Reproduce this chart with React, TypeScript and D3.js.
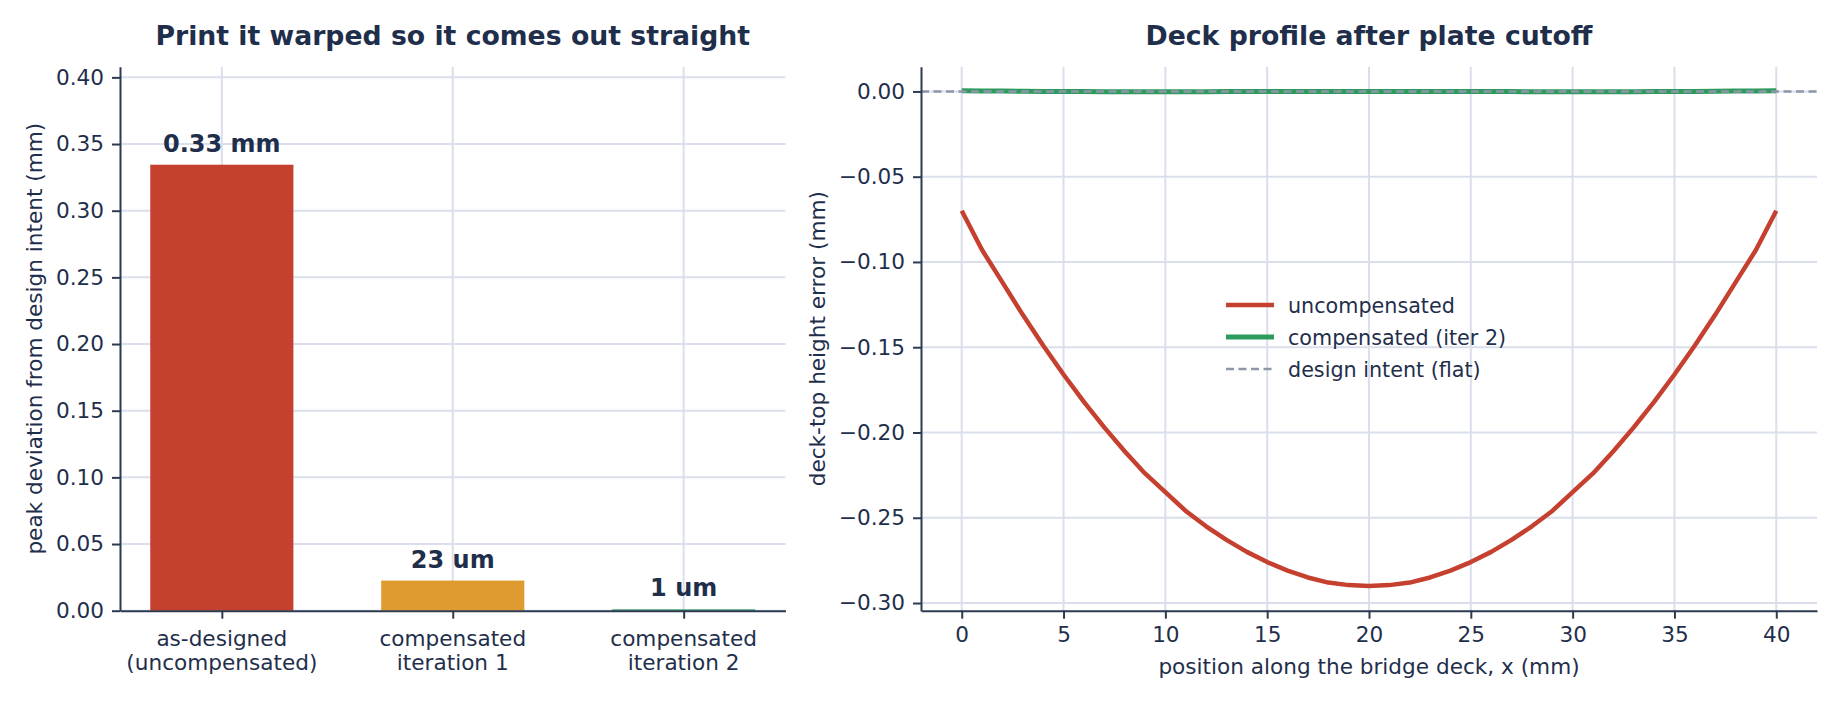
import { useEffect, useRef } from "react";
import * as d3 from "d3";

// ---- data ----
const barCategories = [
  ["as-designed", "(uncompensated)"],
  ["compensated", "iteration 1"],
  ["compensated", "iteration 2"],
];
const barValues = [0.3345, 0.0226, 0.001];
const barLabels = ["0.33 mm", "23 um", "1 um"];
const barColors = ["#c5402f", "#df9b2f", "#2e9b5e"];
const barTicks = [0, 0.05, 0.1, 0.15, 0.2, 0.25, 0.3, 0.35, 0.4];

const deckX = [
  0, 1, 2, 3, 4, 5, 6, 7, 8, 9, 10, 11, 12, 13, 14, 15, 16, 17, 18, 19, 20,
  21, 22, 23, 24, 25, 26, 27, 28, 29, 30, 31, 32, 33, 34, 35, 36, 37, 38, 39, 40,
];
const uncompensated = [
  -0.07, -0.093, -0.112, -0.131, -0.149, -0.166, -0.182, -0.197, -0.211, -0.224,
  -0.235, -0.246, -0.255, -0.263, -0.27, -0.276, -0.281, -0.285, -0.288, -0.2895,
  -0.29,
  -0.2895, -0.288, -0.285, -0.281, -0.276, -0.27, -0.263, -0.255, -0.246, -0.235,
  -0.224, -0.211, -0.197, -0.182, -0.166, -0.149, -0.131, -0.112, -0.093, -0.07,
];
const compensated = [
  0.0004, 0.0003, 0.0002, 0.0001, 0.0, -0.0001, -0.0001, -0.0002, -0.0002, -0.0002,
  -0.0002, -0.0002, -0.0002, -0.0001, -0.0001, 0.0, 0.0, 0.0, 0.0, 0.0,
  0.0,
  0.0, 0.0, 0.0, 0.0, 0.0, -0.0001, -0.0001, -0.0002, -0.0002, -0.0002,
  -0.0002, -0.0002, -0.0002, -0.0001, -0.0001, 0.0, 0.0001, 0.0002, 0.0003, 0.0004,
];
const deckXTicks = [0, 5, 10, 15, 20, 25, 30, 35, 40];
const deckYTicks = [0, -0.05, -0.1, -0.15, -0.2, -0.25, -0.3];
const legendItems = [
  { label: "uncompensated", color: "#c5402f", width: 4.5, dash: "" },
  { label: "compensated (iter 2)", color: "#2e9b5e", width: 5, dash: "" },
  { label: "design intent (flat)", color: "#8e97a8", width: 2.4, dash: "8,4.5" },
];

const W = 1840;
const H = 704;
const TEXT = "#1f2f4b";
const SPINE = "#2d3b50";
const GRID = "#dadfeb";
const FONT = "'DejaVu Sans', sans-serif";
const FS = 21.6; // ticks + axis labels
const FS_LEG = 20.7;

const top = 66.7;
const bottom = 610.7;

function styleAxis(g: d3.Selection<SVGGElement, unknown, null, undefined>) {
  g.select(".domain").attr("stroke", SPINE).attr("stroke-width", 2);
  g.selectAll(".tick line").attr("stroke", SPINE).attr("stroke-width", 2);
  g.selectAll(".tick text")
    .attr("fill", TEXT)
    .attr("font-family", FONT)
    .attr("font-size", FS);
}

export default function App() {
  const ref = useRef<SVGSVGElement | null>(null);

  useEffect(() => {
    if (!ref.current) return;
    const svg = d3.select(ref.current);
    svg.selectAll("*").remove();
    svg.append("rect").attr("width", W).attr("height", H).attr("fill", "#fff");

    const fmt = (v: number) => d3.format(".2f")(v).replace("-", "\u2212");

    // ---------- left: bar chart ----------
    const lx = d3.scaleLinear().domain([-0.441, 2.441]).range([120, 785.5]);
    const ly = d3.scaleLinear().domain([0, 0.408]).range([bottom, top]);
    const left = svg.append("g");

    const lgrid = left.append("g").attr("stroke", GRID).attr("stroke-width", 2);
    lgrid
      .selectAll("line.h")
      .data(barTicks)
      .join("line")
      .attr("x1", lx.range()[0])
      .attr("x2", lx.range()[1])
      .attr("y1", (d) => ly(d))
      .attr("y2", (d) => ly(d));
    lgrid
      .selectAll("line.v")
      .data(barValues.map((_, i) => i))
      .join("line")
      .attr("class", "v")
      .attr("x1", (d) => lx(d))
      .attr("x2", (d) => lx(d))
      .attr("y1", top)
      .attr("y2", bottom);

    left
      .append("g")
      .selectAll("rect")
      .data(barValues)
      .join("rect")
      .attr("x", (_, i) => lx(i - 0.31))
      .attr("width", lx(0.62) - lx(0))
      .attr("y", (d) => ly(d))
      .attr("height", (d) => ly(0) - ly(d))
      .attr("fill", (_, i) => barColors[i]);

    left
      .append("g")
      .selectAll("text")
      .data(barValues)
      .join("text")
      .attr("x", (_, i) => lx(i))
      .attr("y", (d) => ly(d) - 13)
      .attr("text-anchor", "middle")
      .attr("font-family", FONT)
      .attr("font-weight", "bold")
      .attr("font-size", 24)
      .attr("fill", TEXT)
      .text((_, i) => barLabels[i]);

    const lyAxis = left
      .append("g")
      .attr("transform", `translate(120,0)`)
      .call(
        d3.axisLeft(ly).tickValues(barTicks).tickSize(8).tickSizeOuter(0).tickPadding(8).tickFormat((d) => fmt(+d)),
      );
    styleAxis(lyAxis);

    const lxAxis = left
      .append("g")
      .attr("transform", `translate(0,${bottom})`)
      .call(d3.axisBottom(lx).tickValues([0, 1, 2]).tickSize(8).tickSizeOuter(0).tickPadding(8).tickFormat(() => ""));
    styleAxis(lxAxis);
    lxAxis.selectAll(".tick text").remove();
    left
      .append("g")
      .selectAll("text")
      .data(barCategories)
      .join("text")
      .attr("x", (_, i) => lx(i))
      .attr("y", 645.5)
      .attr("text-anchor", "middle")
      .attr("font-family", FONT)
      .attr("font-size", FS)
      .attr("fill", TEXT)
      .each(function (lines) {
        const t = d3.select(this);
        lines.forEach((s, k) => {
          t.append("tspan").attr("x", t.attr("x")).attr("dy", k === 0 ? 0 : 24.8).text(s);
        });
      });

    left
      .append("text")
      .attr("transform", `translate(41.5,${(top + bottom) / 2}) rotate(-90)`)
      .attr("text-anchor", "middle")
      .attr("font-family", FONT)
      .attr("font-size", FS)
      .attr("fill", TEXT)
      .text("peak deviation from design intent (mm)");

    left
      .append("text")
      .attr("x", (lx.range()[0] + lx.range()[1]) / 2)
      .attr("y", 45)
      .attr("text-anchor", "middle")
      .attr("font-family", FONT)
      .attr("font-weight", "bold")
      .attr("font-size", 26.7)
      .attr("fill", TEXT)
      .text("Print it warped so it comes out straight");

    // ---------- right: deck profile ----------
    const rx = d3.scaleLinear().domain([-2, 42]).range([921, 1817]);
    const ry = d3.scaleLinear().domain([-0.3045, 0.0145]).range([bottom, top]);
    const right = svg.append("g");

    const rgrid = right.append("g").attr("stroke", GRID).attr("stroke-width", 2);
    rgrid
      .selectAll("line.h")
      .data(deckYTicks)
      .join("line")
      .attr("class", "h")
      .attr("x1", rx.range()[0])
      .attr("x2", rx.range()[1])
      .attr("y1", (d) => ry(d))
      .attr("y2", (d) => ry(d));
    rgrid
      .selectAll("line.v")
      .data(deckXTicks)
      .join("line")
      .attr("class", "v")
      .attr("x1", (d) => rx(d))
      .attr("x2", (d) => rx(d))
      .attr("y1", top)
      .attr("y2", bottom);

    const line = (vals: number[]) =>
      d3
        .line<number>()
        .x((_, i) => rx(deckX[i]))
        .y((d) => ry(d))(vals);

    right
      .append("path")
      .attr("d", line(uncompensated))
      .attr("fill", "none")
      .attr("stroke", legendItems[0].color)
      .attr("stroke-width", legendItems[0].width)
      .attr("stroke-linejoin", "round");
    right
      .append("path")
      .attr("d", line(compensated))
      .attr("fill", "none")
      .attr("stroke", legendItems[1].color)
      .attr("stroke-width", legendItems[1].width);
    right
      .append("line")
      .attr("x1", rx.range()[0])
      .attr("x2", rx.range()[1])
      .attr("y1", ry(0))
      .attr("y2", ry(0))
      .attr("stroke", legendItems[2].color)
      .attr("stroke-width", legendItems[2].width)
      .attr("stroke-dasharray", legendItems[2].dash);

    const ryAxis = right
      .append("g")
      .attr("transform", `translate(921,0)`)
      .call(
        d3.axisLeft(ry).tickValues(deckYTicks).tickSize(8).tickSizeOuter(0).tickPadding(8).tickFormat((d) => fmt(+d)),
      );
    styleAxis(ryAxis);
    const rxAxis = right
      .append("g")
      .attr("transform", `translate(0,${bottom})`)
      .call(d3.axisBottom(rx).tickValues(deckXTicks).tickSize(8).tickSizeOuter(0).tickPadding(8).tickFormat((d) => String(d)));
    styleAxis(rxAxis);

    right
      .append("text")
      .attr("transform", `translate(824.5,${(top + bottom) / 2}) rotate(-90)`)
      .attr("text-anchor", "middle")
      .attr("font-family", FONT)
      .attr("font-size", FS)
      .attr("fill", TEXT)
      .text("deck-top height error (mm)");
    right
      .append("text")
      .attr("x", (rx.range()[0] + rx.range()[1]) / 2)
      .attr("y", 674)
      .attr("text-anchor", "middle")
      .attr("font-family", FONT)
      .attr("font-size", FS)
      .attr("fill", TEXT)
      .text("position along the bridge deck, x (mm)");
    right
      .append("text")
      .attr("x", (rx.range()[0] + rx.range()[1]) / 2)
      .attr("y", 45)
      .attr("text-anchor", "middle")
      .attr("font-family", FONT)
      .attr("font-weight", "bold")
      .attr("font-size", 26.7)
      .attr("fill", TEXT)
      .text("Deck profile after plate cutoff");

    // legend (no frame)
    const leg = right
      .append("g")
      .selectAll("g")
      .data(legendItems)
      .join("g")
      .attr("transform", (_, i) => `translate(1226,${305 + i * 32})`);
    leg
      .append("line")
      .attr("x1", 0)
      .attr("x2", 48)
      .attr("stroke", (d) => d.color)
      .attr("stroke-width", (d) => d.width)
      .attr("stroke-dasharray", (d) => d.dash);
    leg
      .append("text")
      .attr("x", 62)
      .attr("y", 7.5)
      .attr("font-family", FONT)
      .attr("font-size", FS_LEG)
      .attr("fill", TEXT)
      .text((d) => d.label);
  }, []);

  return (
    <svg
      ref={ref}
      width={W}
      height={H}
      style={{ position: "absolute", left: 0, top: 0, display: "block" }}
    />
  );
}
